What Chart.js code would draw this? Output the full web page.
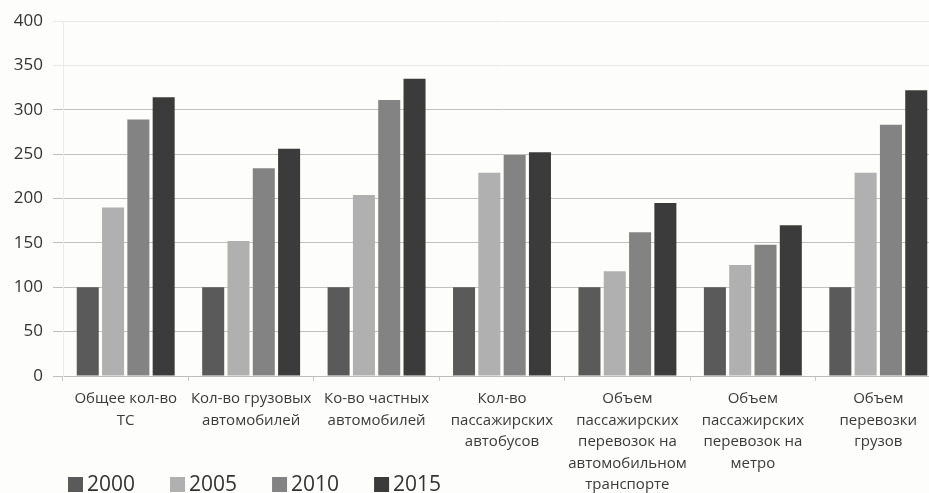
<!DOCTYPE html>
<html>
<head>
<meta charset="utf-8">
<script src="https://cdn.jsdelivr.net/npm/chart.js@4"></script>
<style>
  html, body { margin: 0; padding: 0; background: #fdfdfb; overflow: hidden; }
  #wrap { width: 945px; height: 515px; position: relative; }
</style>
</head>
<body>
<div id="wrap"><canvas id="chart"></canvas></div>
<script>
var categories = [
    ['Общее кол-во', 'ТС'],
    ['Кол-во грузовых', 'автомобилей'],
    ['Ко-во частных', 'автомобилей'],
    ['Кол-во', 'пассажирских', 'автобусов'],
    ['Объем', 'пассажирских', 'перевозок на', 'автомобильном', 'транспорте'],
    ['Объем', 'пассажирских', 'перевозок на', 'метро'],
    ['Объем', 'перевозки', 'грузов']
];
var years = ['2000', '2005', '2010', '2015'];
var values2000 = [100, 100, 100, 100, 100, 100, 100];
var values2005 = [190, 152, 204, 229, 118, 125, 229];
var values2010 = [289, 234, 311, 249, 162, 148, 283];
var values2015 = [314, 256, 335, 252, 195, 170, 322];
var colors = ['#5a5a5a', '#b0b0b0', '#838383', '#3b3b3b'];

// legend drawn under the chart, next to the axis labels
var bottomLegend = {
    id: 'bottomLegend',
    afterDraw: function (chart) {
        var ctx = chart.ctx;
        var x = 68, y = 484;
        ctx.save();
        ctx.font = '21px "Open Sans"';
        ctx.textBaseline = 'middle';
        chart.data.datasets.forEach(function (ds) {
            ctx.fillStyle = ds.backgroundColor;
            ctx.fillRect(x, y - 7, 15, 15);
            ctx.fillStyle = '#333';
            ctx.fillText(ds.label, x + 19, y + 1);
            x += 19 + ctx.measureText(ds.label).width + 35;
        });
        ctx.restore();
    }
};

var series = [values2000, values2005, values2010, values2015];
var datasets = series.map(function (d, i) {
    return {
        label: years[i],
        data: d,
        backgroundColor: colors[i],
        categoryPercentage: 0.807,
        barPercentage: 0.87
    };
});

new Chart(document.getElementById('chart').getContext('2d'), {
    type: 'bar',
    data: { labels: categories, datasets: datasets },
    options: {
        responsive: true,
        maintainAspectRatio: false,
        animation: false,
        layout: { padding: { top: 21, right: 4, left: 0, bottom: 0 } },
        plugins: {
            legend: { display: false },
            tooltip: { enabled: false }
        },
        scales: {
            x: {
                grid: {
                    display: true,
                    drawOnChartArea: false,
                    drawTicks: true,
                    tickLength: 5,
                    color: '#c8c8c8'
                },
                border: { color: '#bdbdbd' },
                ticks: {
                    maxRotation: 0,
                    autoSkip: false,
                    padding: 7,
                    color: '#3a3a3a',
                    font: { family: 'Open Sans', size: 15, lineHeight: 1.44 }
                },
                afterFit: function (scale) { scale.height = 515 - 376; }
            },
            y: {
                min: 0,
                max: 400,
                ticks: {
                    stepSize: 50,
                    padding: 10,
                    color: '#333',
                    font: { family: 'Open Sans', size: 17 }
                },
                grid: {
                    tickLength: 10,
                    color: function (c) {
                        return c.tick && c.tick.value >= 350 ? '#e8e8e6' : '#c0c0c0';
                    }
                },
                border: { color: '#ececec' },
                afterFit: function (scale) { scale.width = 63; }
            }
        }
    },
    plugins: [bottomLegend]
});
</script>
</body>
</html>
